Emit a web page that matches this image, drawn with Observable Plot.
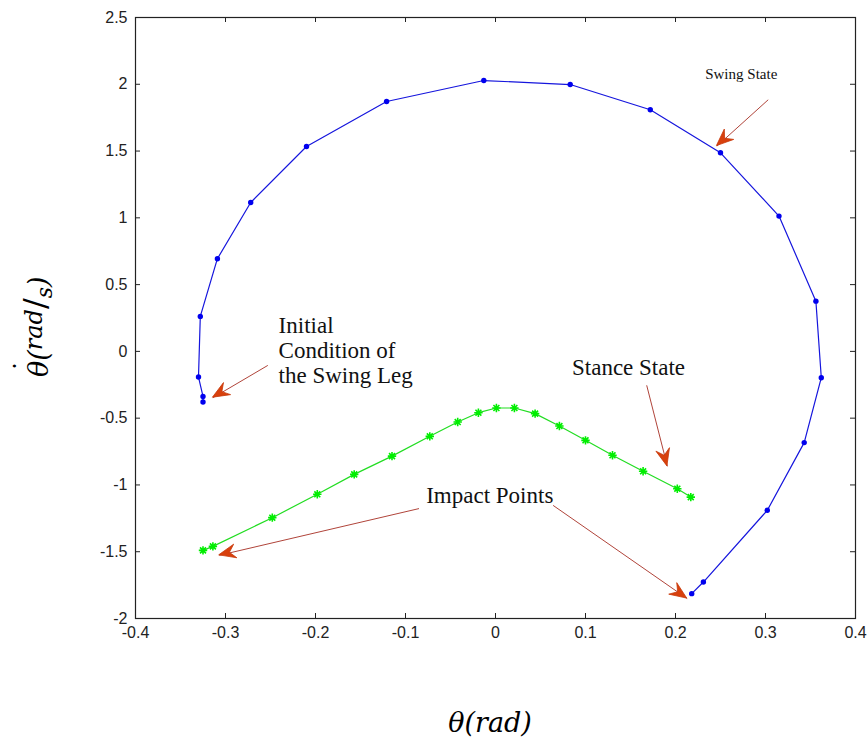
<!DOCTYPE html>
<html><head><meta charset="utf-8">
<script src="https://cdn.jsdelivr.net/npm/d3@7"></script>
<script src="https://cdn.jsdelivr.net/npm/@observablehq/plot@0.6"></script>
<style>html,body{margin:0;padding:0;background:#fff} svg{display:block}</style>
</head><body><div id="chart"></div>
<script>
// Swing leg trajectory (blue)
const swingTheta = [-0.325, -0.325, -0.330, -0.328, -0.309, -0.272, -0.210, -0.121, -0.013, 0.083, 0.172, 0.250, 0.315, 0.356, 0.362, 0.343, 0.302, 0.231, 0.218];
const swingOmega = [-0.379, -0.337, -0.192, 0.262, 0.694, 1.115, 1.534, 1.871, 2.028, 1.998, 1.809, 1.487, 1.013, 0.376, -0.197, -0.683, -1.190, -1.727, -1.814];
// Stance leg trajectory (green)
const stanceTheta = [-0.325, -0.314, -0.248, -0.198, -0.157, -0.115, -0.073, -0.042, -0.019, 0.001, 0.021, 0.044, 0.071, 0.100, 0.130, 0.164, 0.202, 0.217];
const stanceOmega = [-1.490, -1.460, -1.245, -1.070, -0.921, -0.784, -0.636, -0.529, -0.459, -0.424, -0.424, -0.466, -0.559, -0.666, -0.778, -0.898, -1.028, -1.091];
// Axis ticks
const xTicks = [-0.4, -0.3, -0.2, -0.1, 0, 0.1, 0.2, 0.3, 0.4];
const yTicks = [-2, -1.5, -1, -0.5, 0, 0.5, 1, 1.5, 2, 2.5];
const xLabel = "θ(rad)";
// Annotations
const noteTexts = ["Initial\nCondition of\nthe Swing Leg", "Stance State", "Impact Points"];
const noteX = [-0.241, 0.085, -0.077];
const noteY = [-0.240, -0.180, -1.138];
const smallNote = ["Swing State"];
const smallNoteX = [0.233];
const smallNoteY = [2.043];
// Arrows: start (x1,y1) -> tip (x2,y2)
const arrowX1 = [0.303, -0.253, 0.168, -0.085, 0.064];
const arrowY1 = [1.884, -0.105, -0.254, -1.177, -1.153];
const arrowX2 = [0.246, -0.314, 0.191, -0.307, 0.213];
const arrowY2 = [1.537, -0.347, -0.861, -1.527, -1.851];

const swing = swingTheta.map((t, i) => ({theta: t, omega: swingOmega[i]}));
const stance = stanceTheta.map((t, i) => ({theta: t, omega: stanceOmega[i]}));
const arrows = arrowX1.map((x1, i) => ({x1, y1: arrowY1[i], x2: arrowX2[i], y2: arrowY2[i]}));

const W = 868, H = 744, mL = 135, mR = 13, mT = 17, mB = 126;
const fW = W - mL - mR, fH = H - mT - mB;
const tickLen = 5;
const tickFont = "Liberation Sans, Arial, sans-serif";
const serif = "Liberation Serif, Times New Roman, serif";

// MATLAB-style 8-armed asterisk marker
const star8 = {
  draw(context, size) {
    const r = Math.sqrt(size / Math.PI);
    const d = r * Math.SQRT1_2;
    context.moveTo(-r, 0); context.lineTo(r, 0);
    context.moveTo(0, -r); context.lineTo(0, r);
    context.moveTo(-d, -d); context.lineTo(d, d);
    context.moveTo(-d, d); context.lineTo(d, -d);
  }
};

function arrowHeads(index, scales, values, dimensions, context) {
  const g = d3.create("svg:g");
  for (const i of index) {
    const a = arrows[i];
    const sx = scales.x(a.x1), sy = scales.y(a.y1);
    const tx = scales.x(a.x2), ty = scales.y(a.y2);
    const dx = tx - sx, dy = ty - sy, len = Math.hypot(dx, dy);
    const ux = dx / len, uy = dy / len, nx = -uy, ny = ux;
    const L = 17, Wd = 7, notch = 6;
    const pts = [
      [tx, ty],
      [tx - L * ux + Wd * nx, ty - L * uy + Wd * ny],
      [tx - (L - notch) * ux, ty - (L - notch) * uy],
      [tx - L * ux - Wd * nx, ty - L * uy - Wd * ny]
    ];
    g.append("path").attr("d", "M" + pts.map(p => p.join(",")).join("L") + "Z")
      .attr("fill", "#d8400c").attr("stroke", "#c8380a").attr("stroke-width", 0.8);
  }
  return g.node();
}

const chart = Plot.plot({
  width: W, height: H,
  marginLeft: mL, marginRight: mR, marginTop: mT, marginBottom: mB,
  style: {background: "#fff", fontFamily: tickFont},
  x: {domain: [-0.4, 0.4]},
  y: {domain: [-2, 2.5]},
  marks: [
    Plot.frame({stroke: "#222", strokeWidth: 1.2}),
    Plot.ruleX(xTicks, {x: d => d, insetTop: fH - tickLen, stroke: "#222"}),
    Plot.ruleX(xTicks, {x: d => d, insetBottom: fH - tickLen, stroke: "#222"}),
    Plot.ruleY(yTicks, {y: d => d, insetRight: fW - tickLen, stroke: "#222"}),
    Plot.ruleY(yTicks, {y: d => d, insetLeft: fW - tickLen, stroke: "#222"}),
    Plot.axisX(xTicks, {tickSize: 0, tickPadding: 8, tickFormat: d => String(d), label: null, fontSize: 16, fill: "#222"}),
    Plot.axisY(yTicks, {tickSize: 0, tickPadding: 8, tickFormat: d => String(d), label: null, fontSize: 16, fill: "#222"}),
    Plot.line(stance, {x: "theta", y: "omega", stroke: "#22dd22", strokeWidth: 1.2}),
    Plot.dot(stance, {x: "theta", y: "omega", symbol: star8, r: 4.2, stroke: "#00ee00", strokeWidth: 1.6}),
    Plot.line(swing, {x: "theta", y: "omega", stroke: "#1515dd", strokeWidth: 1.2}),
    Plot.dot(swing, {x: "theta", y: "omega", r: 2.7, fill: "#0000ee", stroke: "none"}),
    Plot.link(arrows, {x1: "x1", y1: "y1", x2: "x2", y2: "y2", stroke: "#b0443a", strokeWidth: 1}),
    Plot.dot(arrows, {x: "x2", y: "y2", render: arrowHeads}),
    Plot.text(noteTexts, {x: noteX, y: noteY, text: d => d, textAnchor: "start", lineAnchor: "bottom", lineHeight: 1.09, fontSize: 23, fontFamily: serif, fill: "#111"}),
    Plot.text(smallNote, {x: smallNoteX, y: smallNoteY, text: d => d, textAnchor: "start", lineAnchor: "bottom", fontSize: 15, fontFamily: serif, fill: "#111"})
  ]
});

const svg = d3.select(chart);
// x axis label
svg.append("text")
  .attr("x", 490).attr("y", 732)
  .attr("text-anchor", "middle")
  .attr("font-family", "DejaVu Serif, serif").attr("font-style", "italic").attr("font-size", 27)
  .attr("fill", "#000")
  .text(xLabel);
// y axis label with fraction styling
const yg = svg.append("g").attr("transform", "translate(48,377) rotate(-90)")
  .attr("font-family", "DejaVu Serif, serif").attr("font-style", "italic").attr("font-size", 27)
  .attr("fill", "#000");
const yl = yg.append("text").attr("x", 0).attr("y", 0).attr("text-anchor", "start");
yl.append("tspan").text("\u03B8(");
yl.append("tspan").attr("dy", -6).attr("font-size", 24).text("rad");
yl.append("tspan").attr("dy", 4).attr("font-size", 32).attr("font-style", "normal").text("/");
yl.append("tspan").attr("dy", 6).attr("font-size", 22).text("s");
yl.append("tspan").attr("dy", -4).text(")");
// dot above theta (time derivative)
yg.append("text").attr("x", 11).attr("y", -14).attr("text-anchor", "middle")
  .attr("font-style", "normal").attr("font-size", 27).text("\u02D9");

document.getElementById("chart").appendChild(chart);
</script>
</body></html>
